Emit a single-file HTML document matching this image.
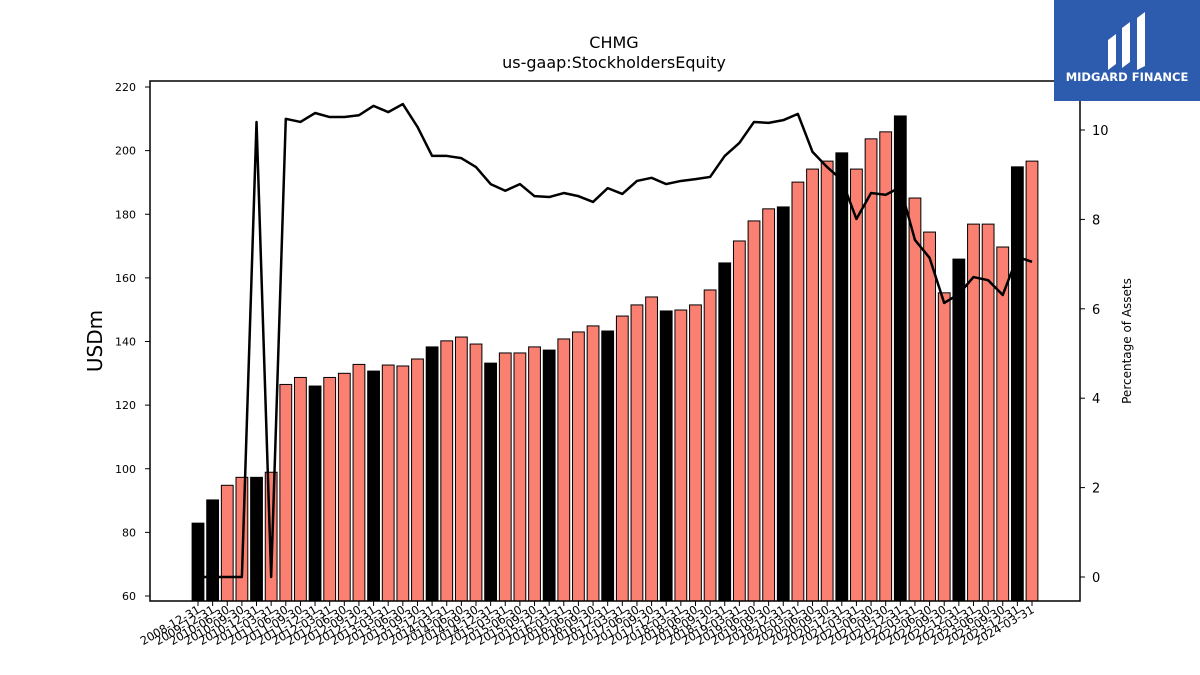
<!DOCTYPE html>
<html><head><meta charset="utf-8"><style>
body{margin:0;background:#fff;}
svg{display:block;font-family:"DejaVu Sans","Liberation Sans",sans-serif;}
</style></head><body>
<svg id="chart" width="1200" height="675" viewBox="0 0 1200 675">
<rect width="1200" height="675" fill="#fff"/>
<text x="614" y="48" text-anchor="middle" font-size="16">CHMG</text>
<text x="614" y="68" text-anchor="middle" font-size="16">us-gaap:StockholdersEquity</text>
<g id="bars"></g>
<g id="line"></g>
<rect x="150" y="81" width="930" height="520" fill="none" stroke="#000" stroke-width="1.5"/>
<g id="yl"></g>
<g id="yr"></g>
<g id="xa"></g>
<text transform="translate(102,341) rotate(-90)" text-anchor="middle" font-size="20">USDm</text>
<text transform="translate(1131,341) rotate(-90)" text-anchor="middle" font-size="12">Percentage of Assets</text>
<g>
<rect x="1054" y="0" width="146" height="101" fill="#2d5cae"/>
<path d="M1108 40 l8 -6 v30 l-8 6z M1122 28 l8 -6 v40 l-8 6z M1137 18 l8 -6 v54 l-8 4z" fill="#fff"/>
<text x="1127" y="81" text-anchor="middle" font-size="11.5" font-weight="bold" fill="#fff">MIDGARD FINANCE</text>
</g>
</svg>
<script>
const labels=["2008-12-31","2009-12-31","2010-06-30","2010-09-30","2010-12-31"];
(function(){for(let y=2011;y<=2024;y++){for(const q of ["03-31","06-30","09-30","12-31"]){labels.push(y+"-"+q);if(y===2024)break;}}})();
const equity=[82.9,90.2,94.8,97.3,97.3,98.9,126.5,128.7,126.0,128.7,130.0,132.8,130.7,132.6,132.3,134.5,138.3,140.2,141.4,139.2,133.2,136.4,136.4,138.3,137.3,140.8,143.0,144.9,143.3,148.0,151.5,154.0,149.6,149.9,151.5,156.2,164.7,171.6,177.9,181.7,182.3,190.1,194.2,196.7,199.3,194.2,203.7,205.9,210.9,185.1,174.4,155.3,165.9,176.9,176.9,169.7,194.9,196.7];
const pctAssets=[0,0,0,0,10.18,0,10.25,10.18,10.38,10.29,10.29,10.33,10.54,10.4,10.58,10.07,9.42,9.42,9.37,9.17,8.79,8.64,8.79,8.52,8.5,8.59,8.52,8.39,8.70,8.57,8.86,8.93,8.79,8.86,8.9,8.95,9.42,9.71,10.18,10.16,10.22,10.36,9.51,9.17,8.88,8.01,8.59,8.55,8.72,7.54,7.14,6.13,6.33,6.71,6.64,6.31,7.16,7.05];
const leftTicks=[60,80,100,120,140,160,180,200,220];
const rightTicks=[0,2,4,6,8,10];
const NS="http://www.w3.org/2000/svg";
const x0=198,x1=1032;
function xs(i){return x0+i*(x1-x0)/(labels.length-1);}
function yl(v){return 596-(v-60)*(596-87)/160;}
function yr(v){return 577-v*(577-130)/10;}
function mk(t,a,p){const e=document.createElementNS(NS,t);for(const k in a)e.setAttribute(k,a[k]);p.appendChild(e);return e;}
const bw=11.8;
const gb=document.getElementById('bars');
equity.forEach((v,i)=>{
 const top=yl(v);
 const r=mk('rect',{x:xs(i)-bw/2,y:top,width:bw,height:601-top,fill:labels[i].endsWith('12-31')?'#000':'#fa8072',stroke:'#000','stroke-width':1},gb);
 
 
});
const pl=mk('polyline',{points:pctAssets.map((v,i)=>xs(i)+','+yr(v)).join(' '),fill:'none',stroke:'#000','stroke-width':2.5,'stroke-linejoin':'round'},document.getElementById('line'));


const gl=document.getElementById('yl');
leftTicks.forEach(t=>{const y=yl(t);
 mk('line',{x1:145,x2:150,y1:y,y2:y,stroke:'#000'},gl);
 const tx=mk('text',{x:136,y:y+4,'text-anchor':'end','font-size':11},gl);tx.textContent=t;
 
 });
const gr=document.getElementById('yr');
rightTicks.forEach(t=>{const y=yr(t);
 mk('line',{x1:1080,x2:1085,y1:y,y2:y,stroke:'#000'},gr);
 const tx=mk('text',{x:1092,y:y+5,'font-size':13},gr);tx.textContent=t;
 
 });
const gx=document.getElementById('xa');
labels.forEach((l,i)=>{const x=xs(i);
 mk('line',{x1:x,x2:x,y1:601,y2:606,stroke:'#000'},gx);
 const tx=mk('text',{transform:'translate('+(x+3)+',612) rotate(-30)','text-anchor':'end','font-size':11.5},gx);tx.textContent=l;
 
 });
</script>
</body></html>
